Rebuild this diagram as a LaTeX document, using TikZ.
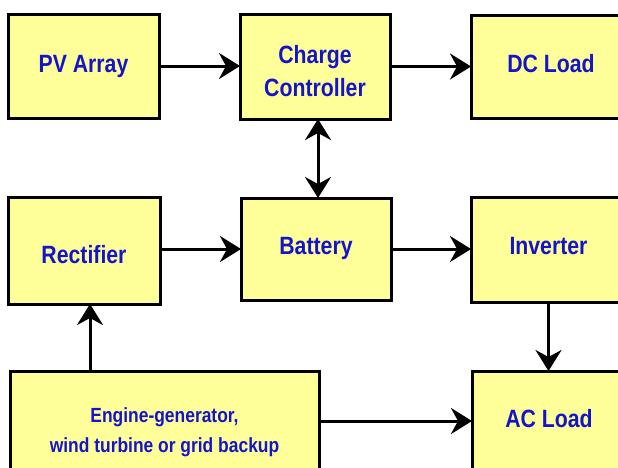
\documentclass[tikz,border=0pt]{standalone}
\usepackage{fontspec}
\newfontfamily\labfont{Liberation Sans}[FakeStretch=0.85]
\usetikzlibrary{arrows.meta,calc}
\definecolor{boxfill}{RGB}{255,255,153}
\definecolor{labblue}{RGB}{20,20,205}
\newcommand{\mylbl}[2]{\raisebox{#1}[0pt][0pt]{#2}}
\tikzset{
  box/.style={draw=black, line width=3pt, fill=boxfill, text=labblue,
    font=\labfont\bfseries\fontsize{25}{33}\selectfont, align=center,
    inner sep=0pt, outer sep=0pt},
  arr/.style={draw=black, line width=3pt,
    -{Stealth[length=21pt, width=26pt, inset=7pt]}},
  darr/.style={draw=black, line width=3pt,
    {Stealth[length=21pt, width=26pt, inset=7pt]}-{Stealth[length=21pt, width=26pt, inset=7pt]}}
}
\begin{document}
\begin{tikzpicture}[x=1pt, y=-1pt]
\useasboundingbox (0,0) rectangle (618,467);
\clip (0,0) rectangle (618,467);
\node[box, minimum width=151pt, minimum height=104pt] (pv) at (83.5,66) {\mylbl{-6pt}{PV Array}};
\node[box, minimum width=150pt, minimum height=105pt] (cc) at (315,66.5) {\mylbl{-30pt}{\begin{tabular}[b]{@{}c@{}}Charge\\Controller\end{tabular}}};
\node[box, minimum width=155pt, minimum height=103pt] (dc) at (548.5,66.5) {\hspace*{5pt}\mylbl{-5.5pt}{DC Load}};
\node[box, minimum width=152pt, minimum height=107pt] (rect) at (84,250.5) {\mylbl{-12.5pt}{Rectifier}};
\node[box, minimum width=150pt, minimum height=102pt] (bat) at (316,249) {\mylbl{-5pt}{Battery}};
\node[box, minimum width=155pt, minimum height=105pt] (inv) at (548.5,249.5) {\mylbl{-4.5pt}{Inverter}};
\node[box, minimum width=309pt, minimum height=109pt, font=\labfont\bfseries\fontsize{20.5}{30}\selectfont] (eng) at (164.5,425.5) {\mylbl{-26.5pt}{\begin{tabular}[b]{@{}c@{}}Engine-generator,\\wind turbine or grid backup\end{tabular}}};
\node[box, minimum width=154pt, minimum height=109pt] (ac) at (549,425.5) {\mylbl{-1.5pt}{AC Load}};
\draw[arr] (pv.east) -- (pv.east -| cc.west);
\draw[arr] (cc.east) -- (cc.east -| dc.west);
\draw[darr] ([xshift=3pt]cc.south) -- ([xshift=3pt]cc.south |- bat.north);
\draw[arr] (rect.east |- bat.west) -- (bat.west);
\draw[arr] (bat.east) -- (bat.east -| inv.west);
\draw[arr] (inv.south) -- (inv.south |- ac.north);
\draw[arr] ([xshift=6pt]rect.south |- eng.north) -- ([xshift=6pt]rect.south);
\draw[arr] ([yshift=4.5pt]eng.east) -- ([yshift=4.5pt]eng.east -| ac.west);
\end{tikzpicture}
\end{document}
